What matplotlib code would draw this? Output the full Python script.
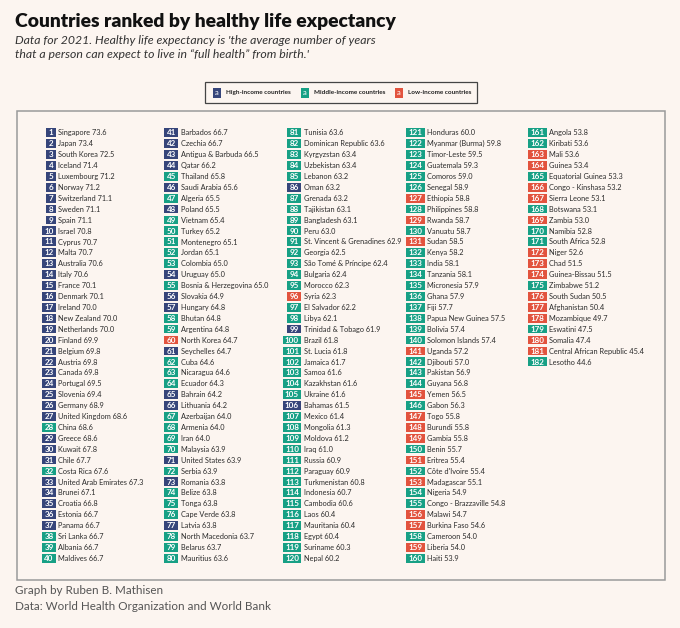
import matplotlib
matplotlib.use("Agg")
import matplotlib.pyplot as plt
from matplotlib.patches import Rectangle

plt.rcParams['font.family'] = ['Lato', 'DejaVu Sans']

countries = [
    "Singapore", "Japan", "South Korea", "Iceland", "Luxembourg", "Norway", "Switzerland", "Sweden",
    "Spain", "Israel", "Cyprus", "Malta", "Australia", "Italy", "France", "Denmark", "Ireland",
    "New Zealand", "Netherlands", "Finland", "Belgium", "Austria", "Canada", "Portugal", "Slovenia",
    "Germany", "United Kingdom", "China", "Greece", "Kuwait", "Chile", "Costa Rica",
    "United Arab Emirates", "Brunei", "Croatia", "Estonia", "Panama", "Sri Lanka", "Albania", "Maldives",
    "Barbados", "Czechia", "Antigua & Barbuda", "Qatar", "Thailand", "Saudi Arabia", "Algeria", "Poland",
    "Vietnam", "Turkey", "Montenegro", "Jordan", "Colombia", "Uruguay", "Bosnia & Herzegovina",
    "Slovakia", "Hungary", "Bhutan", "Argentina", "North Korea", "Seychelles", "Cuba", "Nicaragua",
    "Ecuador", "Bahrain", "Lithuania", "Azerbaijan", "Armenia", "Iran", "Malaysia", "United States",
    "Serbia", "Romania", "Belize", "Tonga", "Cape Verde", "Latvia", "North Macedonia", "Belarus", "Mauritius",
    "Tunisia", "Dominican Republic", "Kyrgyzstan", "Uzbekistan", "Lebanon", "Oman", "Grenada", "Tajikistan",
    "Bangladesh", "Peru", "St. Vincent & Grenadines", "Georgia", "São Tomé & Príncipe", "Bulgaria",
    "Morocco", "Syria", "El Salvador", "Libya", "Trinidad & Tobago", "Brazil", "St. Lucia", "Jamaica",
    "Samoa", "Kazakhstan", "Ukraine", "Bahamas", "Mexico", "Mongolia", "Moldova", "Iraq", "Russia",
    "Paraguay", "Turkmenistan", "Indonesia", "Cambodia", "Laos", "Mauritania", "Egypt", "Suriname", "Nepal",
    "Honduras", "Myanmar (Burma)", "Timor-Leste", "Guatemala", "Comoros", "Senegal", "Ethiopia",
    "Philippines", "Rwanda", "Vanuatu", "Sudan", "Kenya", "India", "Tanzania", "Micronesia", "Ghana",
    "Fiji", "Papua New Guinea", "Bolivia", "Solomon Islands", "Uganda", "Djibouti", "Pakistan", "Guyana",
    "Yemen", "Gabon", "Togo", "Burundi", "Gambia", "Benin", "Eritrea", "Côte d'Ivoire", "Madagascar",
    "Nigeria", "Congo - Brazzaville", "Malawi", "Burkina Faso", "Cameroon", "Liberia", "Haiti",
    "Angola", "Kiribati", "Mali", "Guinea", "Equatorial Guinea", "Congo - Kinshasa", "Sierra Leone",
    "Botswana", "Zambia", "Namibia", "South Africa", "Niger", "Chad", "Guinea-Bissau", "Zimbabwe",
    "South Sudan", "Afghanistan", "Mozambique", "Eswatini", "Somalia", "Central African Republic", "Lesotho",
]

hale = [
    73.6, 73.4, 72.5, 71.4, 71.2, 71.2, 71.1, 71.1, 71.1, 70.8, 70.7, 70.7, 70.6, 70.6, 70.1, 70.1,
    70.0, 70.0, 70.0, 69.9, 69.8, 69.8, 69.8, 69.5, 69.4, 68.9, 68.6, 68.6, 68.6, 67.8, 67.7, 67.6,
    67.3, 67.1, 66.8, 66.7, 66.7, 66.7, 66.7, 66.7,
    66.7, 66.7, 66.5, 66.2, 65.8, 65.6, 65.5, 65.5, 65.4, 65.2, 65.1, 65.1, 65.0, 65.0, 65.0, 64.9,
    64.8, 64.8, 64.8, 64.7, 64.7, 64.6, 64.6, 64.3, 64.2, 64.2, 64.0, 64.0, 64.0, 63.9, 63.9, 63.9,
    63.8, 63.8, 63.8, 63.8, 63.8, 63.7, 63.7, 63.6,
    63.6, 63.6, 63.4, 63.4, 63.2, 63.2, 63.2, 63.1, 63.1, 63.0, 62.9, 62.5, 62.4, 62.4, 62.3, 62.3,
    62.2, 62.1, 61.9, 61.8, 61.8, 61.7, 61.6, 61.6, 61.6, 61.5, 61.4, 61.3, 61.2, 61.0, 60.9, 60.9,
    60.8, 60.7, 60.6, 60.4, 60.4, 60.4, 60.3, 60.2,
    60.0, 59.8, 59.5, 59.3, 59.0, 58.9, 58.8, 58.8, 58.7, 58.7, 58.5, 58.2, 58.1, 58.1, 57.9, 57.9,
    57.7, 57.5, 57.4, 57.4, 57.2, 57.0, 56.9, 56.8, 56.5, 56.3, 55.8, 55.8, 55.8, 55.7, 55.4, 55.4,
    55.1, 54.9, 54.8, 54.7, 54.6, 54.0, 54.0, 53.9,
    53.8, 53.6, 53.6, 53.4, 53.3, 53.2, 53.1, 53.1, 53.0, 52.8, 52.8, 52.6, 51.5, 51.5, 51.2, 50.5,
    50.4, 49.7, 47.5, 47.4, 45.4, 44.6,
]

# H = high income, M = middle income, L = low income
income = list(
    "HHHHHHHHHHHHHHHHHHHHHHHHHHHMHHHMHHHHHMMM"
    "HHHHMHMHMMMMMHMHHMMLHMMMHHMMMMHMHMMMHMMM"
    "MMMMMHMMMMMMMMMLMMHMMMMMMHMMMMMMMMMMMMMM"
    "MMMMMMLMLMLMMMMMMMMMLMMMLMLLLMLMLMMLLMLM"
    "MMLLMLLMLMMLLLMLLLMLLM"
)

income_names = {"H": "High-income countries", "M": "Middle-income countries", "L": "Low-income countries"}
colors = {"H": "#36457a", "M": "#17a085", "L": "#e2533e"}

bg = "#fcf5f0"
fig = plt.figure(figsize=(6.8, 6.28), dpi=100, facecolor=bg)
ax = fig.add_axes([0, 0, 1, 1])
ax.set_xlim(0, 680)
ax.set_ylim(628, 0)
ax.axis('off')
ax.set_facecolor(bg)

fig.text(15 / 680, 1 - 22 / 628, "Countries ranked by healthy life expectancy",
         fontsize=13.9, fontweight='heavy', color='#111111', va='center')
fig.text(15 / 680, 1 - 41 / 628,
         "Data for 2021. Healthy life expectancy is 'the average number of years",
         fontsize=8.8, style='italic', color='#333333', va='center')
fig.text(15 / 680, 1 - 54 / 628,
         "that a person can expect to live in \u201cfull health\u201d from birth.'",
         fontsize=8.8, style='italic', color='#333333', va='center')

# legend box
ax.add_patch(Rectangle((205, 82), 272, 21, fc=bg, ec='#444444', lw=0.9))
leg_x = [212.5, 300.5, 394.5]
for key, lx in zip(["H", "M", "L"], leg_x):
    ax.add_patch(Rectangle((lx, 87.5), 8.5, 10, fc=colors[key], ec='none'))
    ax.text(lx + 4.25, 92.3, "a", color='white', fontsize=5.5, ha='center', va='center')
    ax.text(lx + 13, 92.7, income_names[key], color='#222222', fontsize=4.6,
            fontweight='bold', ha='left', va='center')

# main frame
ax.add_patch(Rectangle((16.5, 111), 648.5, 469, fc=bg, ec='#9a9a9a', lw=1.1))

col_x = [58.5, 180.7, 303.7, 427.0, 549.3]
y0, dy = 132.7, 10.91
per_col = 40
for i, (name, val, inc) in enumerate(zip(countries, hale, income)):
    col, row = divmod(i, per_col)
    tx = col_x[col]
    y = y0 + row * dy
    rank = str(i + 1)
    w = 5.6 + 4.4 * len(rank)
    right = tx - 2.3
    ax.add_patch(Rectangle((right - w, y - 4.4), w, 8.8, fc=colors[inc], ec='none'))
    ax.text(right - w / 2, y + 0.2, rank, color='white', fontsize=5.8, fontweight='bold',
            ha='center', va='center')
    ax.text(tx, y + 0.2, f"{name} {val:.1f}", color='#2b2b2b', fontsize=5.3,
            ha='left', va='center')

fig.text(15 / 680, 1 - 591 / 628, "Graph by Ruben B. Mathisen", fontsize=8.4,
         color='#555555', va='center')
fig.text(15 / 680, 1 - 607 / 628, "Data: World Health Organization and World Bank", fontsize=8.4,
         color='#555555', va='center')

fig.savefig("out.png", dpi=100, facecolor=bg)
